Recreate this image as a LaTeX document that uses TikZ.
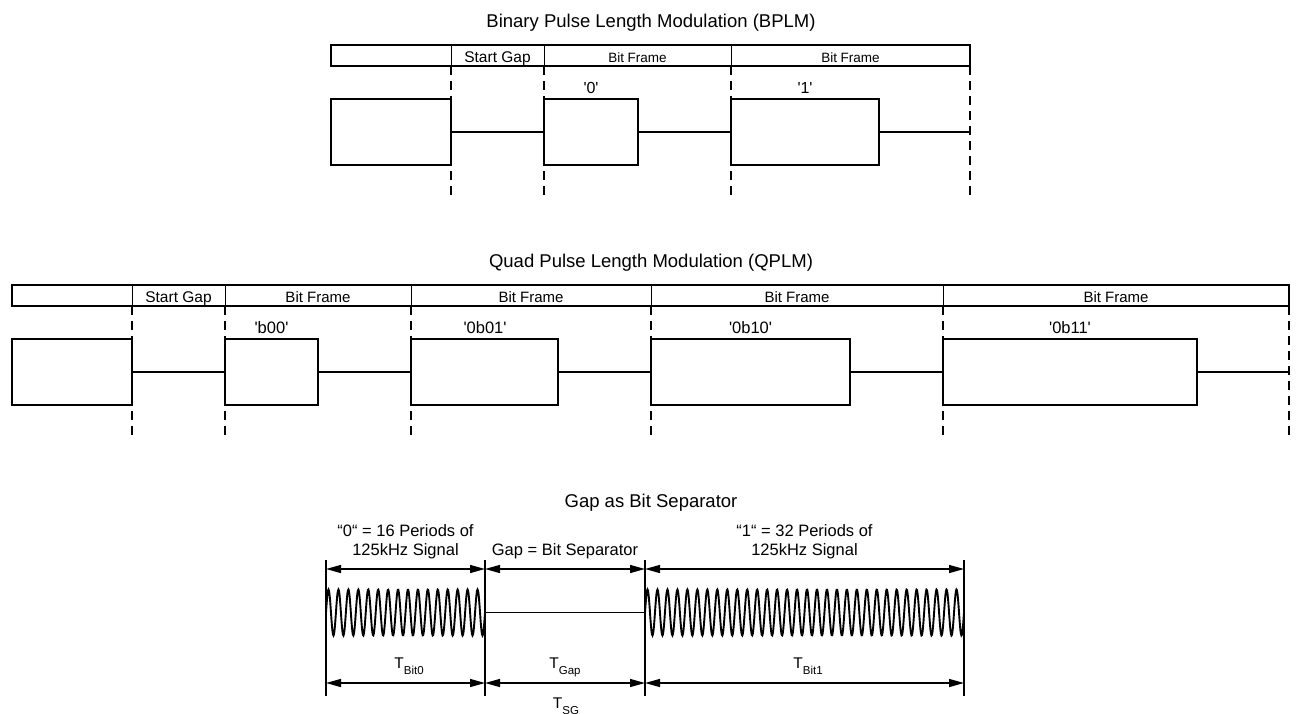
\documentclass[tikz,border=0pt]{standalone}
\usepackage{fontspec}
\setmainfont{Liberation Sans}
\usetikzlibrary{arrows.meta}
\newcommand\sq[1]{\textquotesingle#1\textquotesingle}
\newcommand\tsub[1]{T\raisebox{-0.45em}{\fontsize{11.5}{12}\selectfont#1}}
\begin{document}
\begin{tikzpicture}[x=1pt, y=-1pt,
   framebar/.style={line width=2.5pt},
   divider/.style={line width=0.9pt},
   pulse/.style={line width=2.5pt, line join=miter},
   lowline/.style={line width=1.6pt},
   frameline/.style={line width=1.2pt, dash pattern=on 9pt off 6pt},
   marker/.style={line width=1.4pt},
   wave/.style={line width=1.9pt},
   dimline/.style={line width=1.4pt, {Triangle[length=15pt,width=8pt]}-{Triangle[length=15pt,width=8pt]}},
   title/.style={font=\fontsize{18.5}{20}\selectfont, anchor=base, inner sep=0pt},
   lbl/.style={font=\fontsize{#1}{18}\selectfont, anchor=base, inner sep=0pt},
   lbl/.default=15,
   txt/.style={font=\fontsize{16.5}{19}\selectfont, align=center, inner sep=0pt}]
   \useasboundingbox (0,0) rectangle (1296,713);
   \clip (0,0) rectangle (1296,713);

   % BPLM
   \node[title] (bplmtitle) at (651,27) {Binary Pulse Length Modulation (BPLM)};
   \draw[framebar] (331,45) rectangle (970,66);
   \foreach \x in {451,544,731} \draw[divider] (\x,45) -- (\x,66);
   \node[lbl=15.5] (bsg) at (497.5,62) {Start Gap};
   \foreach \x/\n in {637.5/1, 850.5/2}
     \node[lbl=13.5] (bbf\n) at (\x,62) {Bit Frame};
   \foreach \x in {451,544,731,970} \draw[frameline] (\x,66) -- (\x,200);
   \foreach \a/\b in {331/451, 544/638, 731/879} \draw[pulse] (\a,99) rectangle (\b,165);
   \foreach \a/\b in {451/544, 638/731, 879/970} \draw[lowline] (\a,132) -- (\b,132);
   \foreach \x/\t/\n in {591/\sq{0}/0, 805/\sq{1}/1}
     \node[lbl=16] (bbit\n) at (\x,93) {\t};

   % QPLM
   \node[title] (qplmtitle) at (651,267) {Quad Pulse Length Modulation (QPLM)};
   \draw[framebar] (12,285) rectangle (1289,306);
   \foreach \x in {132,225,411,651,943} \draw[divider] (\x,285) -- (\x,306);
   \node[lbl=15.5] (qsg) at (178.5,302) {Start Gap};
   \foreach \x/\n in {318/1, 531/2, 797/3, 1116/4}
     \node[lbl] (qbf\n) at (\x,302) {Bit Frame};
   \foreach \x in {132,225,411,651,943,1289} \draw[frameline] (\x,306) -- (\x,440);
   \foreach \a/\b in {12/132, 225/318, 411/558, 651/850, 943/1197} \draw[pulse] (\a,339) rectangle (\b,405);
   \foreach \a/\b in {132/225, 318/411, 558/651, 850/943, 1197/1289} \draw[lowline] (\a,372) -- (\b,372);
   \foreach \x/\t/\n in {271.5/\sq{b00}/0, 485/\sq{0b01}/1, 750.5/\sq{0b10}/2, 1070/\sq{0b11}/3}
     \node[lbl=16.5] (qbit\n) at (\x,333) {\t};

   % Gap as Bit Separator
   \node[title] (gaptitle) at (651,507) {Gap as Bit Separator};
   \foreach \n/\x in {0/326, 1/485, 2/645, 3/964} {
     \coordinate (t\n) at (\x,569);
     \coordinate (b\n) at (\x,683);
     \draw[marker] (\x,560) -- (\x,696);
   }
   \node[txt, anchor=south] (zero) at (405.5,559) {“0“ = 16 Periods of\\125kHz Signal};
   \node[txt, anchor=base] (gapsep) at (565,555) {Gap = Bit Separator};
   \node[txt, anchor=south] (one) at (804.5,559) {“1“ = 32 Periods of\\125kHz Signal};
   \draw[dimline] (t0) -- (t1);
   \draw[dimline] (t1) -- (t2);
   \draw[dimline] (t2) -- (t3);
   \draw[wave] plot[domain=0:16, samples=320] ({326+\x*159/16}, {612.5-23*sin(\x*360)});
   \draw[lowline] (485,612.5) -- (645,612.5);
   \draw[wave] plot[domain=0:32, samples=640] ({645+\x*319/32}, {612.5-23*sin(\x*360)});
   \node[lbl=15.5] (tbit0) at (409,668) {\tsub{Bit0}};
   \node[lbl=15.5] (tgap) at (565,668) {\tsub{Gap}};
   \node[lbl=15.5] (tbit1) at (808,668) {\tsub{Bit1}};
   \draw[dimline] (b0) -- (b1);
   \draw[dimline] (b1) -- (b2);
   \draw[dimline] (b2) -- (b3);
   \node[lbl=15.5] (tsg) at (566,708) {\tsub{SG}};
\end{tikzpicture}
\end{document}
